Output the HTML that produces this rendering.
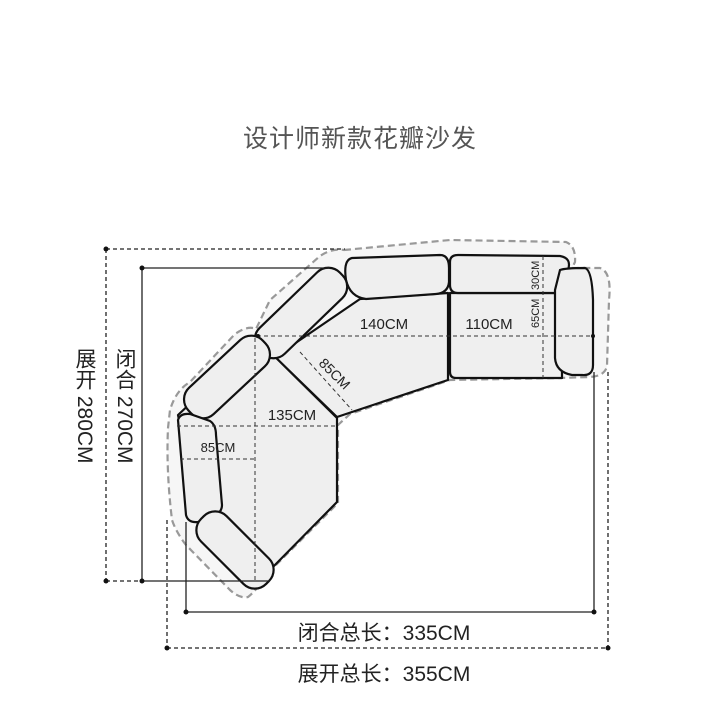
<!DOCTYPE html>
<html><head><meta charset="utf-8"><style>
html,body{margin:0;padding:0;background:#fff;}
body{position:relative;width:720px;height:720px;overflow:hidden;}
svg{display:block;position:absolute;left:0;top:0;}
text{font-family:"Liberation Sans","Noto Sans CJK SC",sans-serif;}
.vt{position:absolute;writing-mode:vertical-rl;font-family:"Liberation Sans","Noto Sans CJK SC",sans-serif;font-size:21px;color:#222;line-height:22px;white-space:nowrap;}
</style></head><body>
<svg width="720" height="720" viewBox="0 0 720 720" xmlns="http://www.w3.org/2000/svg">
<rect width="720" height="720" fill="#fff"/>
<text x="360" y="147" font-size="25" fill="#555" text-anchor="middle" letter-spacing="1">设计师新款花瓣沙发</text>

<g fill="#f6f6f6" stroke="#999" stroke-width="2.2" stroke-dasharray="7,4" stroke-linejoin="round">
<path d="M344,250 L450,240 L566,242 Q576,246 575,262 L572,268 L600,268 Q612,272 609,300 L607,366 Q605,376 590,377 L560,378 L450,380 L350,414 L338,425 L338,503 L268,573 Q257,590 248,597 Q240,599 230,590 L186,545 Q176,532 172,520 Q166,470 168,428 L170,410 Q176,390 190,382 L235,334 Q248,325 256,329 L270,300 L320,256 Q332,248 344,250 Z"/>
</g>

<g fill="#efefef" stroke="#111" stroke-width="2.2" stroke-linejoin="round">
<path d="M275,357 L337,417 L448,380 L448,293 L360,299 Z"/>
<path d="M258,340 L337,418 L337,502 L270,570 L200,520 L178,415 Z"/>
<path d="M450,293 L450,372 Q450,378 456,378 L562,378 L562,293 Z"/>
</g>
<g fill="#efefef" stroke="#111" stroke-width="2.2">
<path d="M450,262 Q450,255 458,255 L560,256 Q572,258 568,270 L555,293 L458,293 Q450,293 450,285 Z"/>
<path d="M560,270 Q565,268 585,268 Q592,270 593,300 L593,365 Q593,376 582,375 L572,375 Q556,372 555,358 L555,290 Z"/>
<path d="M352,258 L440,255 Q449,255 449,268 L449,282 Q448,293 436,294 L366,299 Q350,297 346,280 Q343,260 352,258 Z"/>
<rect x="245" y="295" width="112" height="36" rx="16" transform="rotate(-44 301 313)"/>
<rect x="176" y="359" width="102" height="36" rx="16" transform="rotate(-43 227 377)"/>
<path d="M178,420 Q180,413 190,414 L210,421 Q216,425 216,435 L222,505 Q222,512 215,515 L198,522 Q188,523 186,515 Z"/>
<rect x="189" y="532" width="92" height="36" rx="16" transform="rotate(45 235 550)"/>
</g>

<g stroke="#333" stroke-width="1" stroke-dasharray="4,3" fill="none">
<line x1="257" y1="336" x2="593" y2="336"/>
<line x1="255" y1="338" x2="255" y2="580"/>
<line x1="177" y1="426" x2="337" y2="426"/>
<line x1="180" y1="459" x2="255" y2="459"/>
<line x1="300" y1="352" x2="352" y2="410"/>
<line x1="543" y1="256" x2="543" y2="378"/>
</g>
<circle cx="258" cy="336" r="2" fill="#111"/>
<circle cx="593" cy="336" r="2" fill="#111"/>

<g fill="#222" font-size="15">
<text x="384" y="329" text-anchor="middle">140CM</text>
<text x="489" y="329" text-anchor="middle">110CM</text>
<text x="292" y="420" text-anchor="middle">135CM</text>
<text x="218" y="452" text-anchor="middle" font-size="13">85CM</text>
<text x="0" y="0" font-size="14" transform="translate(318,364) rotate(45)">85CM</text>
<text x="0" y="0" font-size="11" transform="translate(539,290) rotate(-90)">30CM</text>
<text x="0" y="0" font-size="11" transform="translate(539,328) rotate(-90)">65CM</text>
</g>

<g stroke="#222" stroke-width="1.3" fill="none">
<line x1="142" y1="268" x2="142" y2="581"/>
<line x1="142" y1="268" x2="330" y2="268"/>
<line x1="142" y1="581" x2="270" y2="581"/>
<line x1="186" y1="522" x2="186" y2="612"/>
<line x1="186" y1="612" x2="594" y2="612"/>
<line x1="594" y1="372" x2="594" y2="612"/>
</g>
<g stroke="#222" stroke-width="1.3" fill="none" stroke-dasharray="4,3">
<line x1="106" y1="249" x2="106" y2="581"/>
<line x1="106" y1="249" x2="345" y2="249"/>
<line x1="106" y1="581" x2="142" y2="581"/>
<line x1="167" y1="520" x2="167" y2="648"/>
<line x1="167" y1="648" x2="608" y2="648"/>
<line x1="608" y1="372" x2="608" y2="648"/>
</g>
<g fill="#111">
<circle cx="106" cy="249" r="2.5"/><circle cx="106" cy="581" r="2.5"/>
<circle cx="142" cy="268" r="2.5"/><circle cx="142" cy="581" r="2.5"/>
<circle cx="186" cy="612" r="2.5"/><circle cx="594" cy="612" r="2.5"/>
<circle cx="167" cy="648" r="2.5"/><circle cx="608" cy="648" r="2.5"/>
</g>

<g fill="#222" font-size="21">
<text x="384" y="640" text-anchor="middle">闭合总长：335CM</text>
<text x="384" y="681" text-anchor="middle">展开总长：355CM</text>
</g>
</svg>
<div class="vt" style="left:113px;top:348px;">闭合 270CM</div>
<div class="vt" style="left:73px;top:348px;">展开 280CM</div>
</body></html>
